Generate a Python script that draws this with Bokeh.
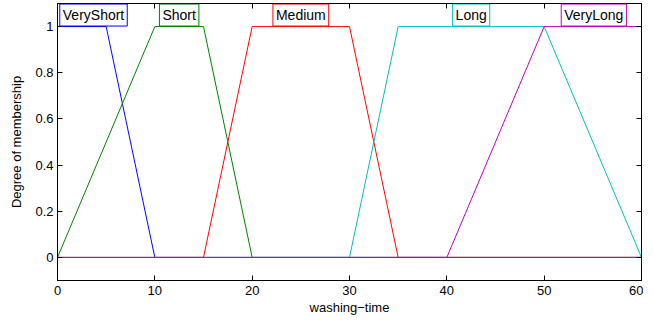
from bokeh.plotting import figure
from bokeh.models import Range1d, LinearAxis, FixedTicker, Label
from bokeh.embed import file_html
from bokeh.resources import INLINE

# membership functions (breakpoints over the universe 0..60)
names = ["VeryShort", "Short", "Medium", "Long", "VeryLong"]
vs_x = [0, 5, 10, 60]
vs_y = [1, 1, 0, 0]
sh_x = [0, 10, 15, 20, 60]
sh_y = [0, 1, 1, 0, 0]
me_x = [0, 15, 20, 30, 35, 60]
me_y = [0, 0, 1, 1, 0, 0]
lo_x = [0, 30, 35, 50, 60]
lo_y = [0, 0, 1, 1, 0]
vl_x = [0, 40, 50, 60]
vl_y = [0, 0, 1, 1]
label_x = [3.7, 12.5, 25, 42.5, 55.1]
label_y = 1.05
colors = ["#0000FF", "#008000", "#FF0000", "#00BFBF", "#BF00BF"]
x_ticks = [0, 10, 20, 30, 40, 50, 60]
y_ticks = [0, 0.2, 0.4, 0.6, 0.8, 1]

FONT = "Liberation Sans"

p = figure(frame_width=584, frame_height=277, output_backend="svg", toolbar_location=None,
           x_range=Range1d(0, 60), y_range=Range1d(-0.1, 1.1),
           min_border_left=57, min_border_right=2, min_border_top=3, min_border_bottom=36)
p.grid.visible = False
p.outline_line_color = "black"
p.background_fill_color = "white"
p.border_fill_color = "white"

series = [(vs_x, vs_y), (sh_x, sh_y), (me_x, me_y), (lo_x, lo_y), (vl_x, vl_y)]
for (xs, ys), c in zip(series, colors):
    p.line(xs, ys, line_color=c, line_width=1)

def style_axis(ax, ticks, labels=True):
    ax.ticker = FixedTicker(ticks=ticks)
    ax.major_tick_in = 5
    ax.major_tick_out = 0
    ax.minor_tick_line_color = None
    ax.axis_line_color = "black"
    ax.major_tick_line_color = "black"
    ax.major_label_text_font = FONT
    ax.major_label_text_font_size = "13px"
    ax.major_label_text_color = "black"
    ax.axis_label_text_font = FONT
    ax.axis_label_text_font_size = "13px"
    ax.axis_label_text_font_style = "normal"
    ax.axis_label_text_color = "black"
    if not labels:
        ax.major_label_overrides = {t: "" for t in ticks}
        ax.major_label_standoff = 0

xa = p.xaxis[0]
style_axis(xa, x_ticks)
xa.axis_label = "washing\u2212time"
xa.major_label_standoff = 5
xa.axis_label_standoff = 2

ya = p.yaxis[0]
style_axis(ya, y_ticks)
ya.axis_label = "Degree of membership"
ya.major_label_standoff = 4
ya.axis_label_standoff = 8

top = LinearAxis()
style_axis(top, x_ticks, labels=False)
p.add_layout(top, "above")
right = LinearAxis()
style_axis(right, y_ticks, labels=False)
p.add_layout(right, "right")

for name, lx, c in zip(names, label_x, colors):
    p.add_layout(Label(x=lx, y=label_y, text=name, text_align="center",
                       text_baseline="middle", text_font=FONT,
                       text_font_size="14px", text_color="black",
                       background_fill_color="white", border_line_color=c,
                       border_line_width=1, padding=3))

open("out.html", "w").write(file_html(p, INLINE))
